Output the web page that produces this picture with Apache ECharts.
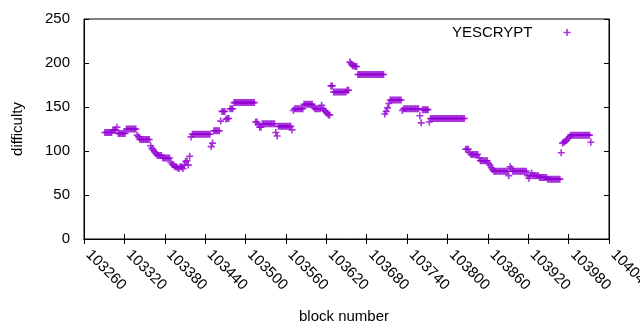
<!DOCTYPE html>
<html>
<head>
<meta charset="utf-8">
<title>YESCRYPT difficulty</title>
<script src="https://cdn.jsdelivr.net/npm/echarts@6/dist/echarts.min.js"></script>
<style>
	html, body { margin: 0; padding: 0; background: #fff; }
	.chart { width: 640px; height: 330px; }
</style>
</head>
<body>
<div class="chart"></div>
<script>
// blocks are read every 2nd block, starting here
var firstBlock = 103291;
var blockStep = 2;
// difficulty per sampled block
var difficulty = [
	121, 121, 121, 121, 121, 121, 124, 124, 124, 127,
	120, 120, 120, 120, 120, 120, 125, 125, 125, 125, 125, 125, 125, 125,
	118, 116, 113, 113, 113, 113, 113, 113, 113, 113,
	106, 103, 101, 99, 97, 95, 95, 95, 95, 92, 92, 92, 92, 92, 92,
	87, 85, 84, 82, 82, 81, 80, 82, 82, 80, 84, 88, 89, 84, 94, 116,
	119, 119, 119, 119, 119, 119, 119, 119, 119, 119, 119, 119, 119, 119,
	105, 109, 123, 123, 123, 123, 123, 134,
	145, 145, 145, 136, 137, 137, 148, 148, 148,
	155, 155, 155, 155, 155, 155, 155, 155, 155, 155, 155, 155, 155, 155, 155, 155,
	133, 133, 130, 127, 127,
	131, 131, 131, 131, 131, 131, 131, 131, 131, 131, 121, 117,
	128, 128, 128, 128, 128, 128, 128, 128, 128, 128, 124,
	146, 148, 148, 148, 148, 148, 148, 148, 153, 153, 153, 153, 153, 153, 153, 150, 148, 148, 148, 148, 148,
	152, 148, 146, 145, 143, 141, 141,
	174, 174, 167, 167, 167, 167, 167, 167, 167, 167, 167, 167, 169, 169,
	201, 199, 197, 197, 196, 196,
	187, 187, 187, 187, 187, 187, 187, 187, 187, 187, 187, 187, 187, 187, 187, 187, 187, 187, 187, 187,
	142, 145, 149, 154, 158, 158, 158, 158, 158, 158, 158, 158, 158,
	146, 148, 148, 148, 148, 148, 148, 148, 148, 148, 148, 148, 148,
	140, 132, 147, 147, 147, 147, 147, 133, 137,
	137, 137, 137, 137, 137, 137, 137, 137, 137, 137, 137, 137, 137, 137, 137, 137, 137, 137, 137, 137, 137, 137, 137, 137, 137,
	102, 102, 102, 98, 96, 96, 96, 96, 96, 96, 92, 89, 89, 89, 89, 89, 89,
	86, 84, 81, 79, 77, 77, 77, 77, 77, 77, 77, 77, 77, 77, 77,
	72, 82, 80, 77, 77, 77, 77, 77, 77, 77, 77, 77, 77, 77,
	72, 69, 72, 75, 72, 72, 72, 72, 72, 70, 70, 70, 70, 70, 70, 68, 68, 68, 68, 68, 68, 68, 68, 68, 68,
	98, 109, 110, 111, 112, 114, 116, 118,
	118, 118, 118, 118, 118, 118, 118, 118, 118, 118, 118, 118, 118, 118, 110
];
// axis ranges and tick steps
var xMin = 103260, xMax = 104040, xStep = 60;
var yMin = 0, yMax = 250, yStep = 50;
var seriesName = 'YESCRYPT';

(function () {
	let myChart = echarts.init(document.querySelector(".chart"), null, { renderer: 'canvas' })
	let font = 'Liberation Sans, Arial, sans-serif';
	let purple = '#9400d3';
	// gnuplot style "+" point
	let plus = 'path://M2.7,0H4.3V2.7H7V4.3H4.3V7H2.7V4.3H0V2.7H2.7Z';
	let points = difficulty.map(function (v, i) {
		return [firstBlock + i * blockStep, v];
	});
	let tickStyle = {
		inside: true,
		length: 5,
		lineStyle: { color: '#000' }
	};
	let lineStyle = { lineStyle: { color: '#000', width: 1 } };
	let option = {
		animation: false,
		grid: {
			left: 84,
			right: 31,
			top: 19,
			bottom: 91,
			// keep the grid fixed even if labels overflow
			outerBoundsMode: 'none',
			containLabel: false,
			show: true,
			borderColor: '#000',
			borderWidth: 1
		},
		legend: {
			right: 69.5,
			top: 25,
			padding: 0,
			align: 'right',
			itemWidth: 7,
			itemHeight: 7,
			icon: plus,
			textStyle: {
				fontFamily: font,
				fontSize: 15,
				color: '#000',
				padding: [0, 26, 0, 0]
			},
			data: [seriesName]
		},
		xAxis: [
			{
				type: 'value',
				min: xMin,
				max: xMax,
				interval: xStep,
				name: 'block number',
				nameLocation: 'middle',
				nameGap: 70,
				nameTextStyle: { fontFamily: font, fontSize: 15, color: '#000', padding: [0, 5, 0, 0] },
				axisLine: lineStyle,
				axisTick: tickStyle,
				axisLabel: {
					rotate: -45,
					margin: 9,
					padding: [0, 0, 0, 6],
					color: '#000',
					fontFamily: font,
					fontSize: 15,
					hideOverlap: false,
					formatter: function (v) {
						return String(v);
					}
				},
				splitLine: { show: false }
			},
			{
				// mirrored ticks on top
				type: 'value',
				position: 'top',
				min: xMin,
				max: xMax,
				interval: xStep,
				axisLine: lineStyle,
				axisTick: tickStyle,
				axisLabel: { show: false },
				splitLine: { show: false }
			}
		],
		yAxis: [
			{
				type: 'value',
				min: yMin,
				max: yMax,
				interval: yStep,
				name: 'difficulty',
				nameLocation: 'middle',
				nameGap: 59,
				nameTextStyle: { fontFamily: font, fontSize: 15, color: '#000' },
				axisLine: lineStyle,
				axisTick: tickStyle,
				axisLabel: {
					margin: 14,
					color: '#000',
					fontFamily: font,
					fontSize: 15
				},
				splitLine: { show: false }
			},
			{
				// mirrored ticks on the right
				type: 'value',
				position: 'right',
				min: yMin,
				max: yMax,
				interval: yStep,
				axisLine: lineStyle,
				axisTick: tickStyle,
				axisLabel: { show: false },
				splitLine: { show: false }
			}
		],
		series: [
			{
				name: seriesName,
				type: 'scatter',
				symbol: plus,
				symbolSize: 7,
				itemStyle: { color: purple },
				data: points
			}
		]
	};
	myChart.setOption(option)
	window.addEventListener("resize", function () {
		myChart.resize()
	})
})();
</script>
</body>
</html>
